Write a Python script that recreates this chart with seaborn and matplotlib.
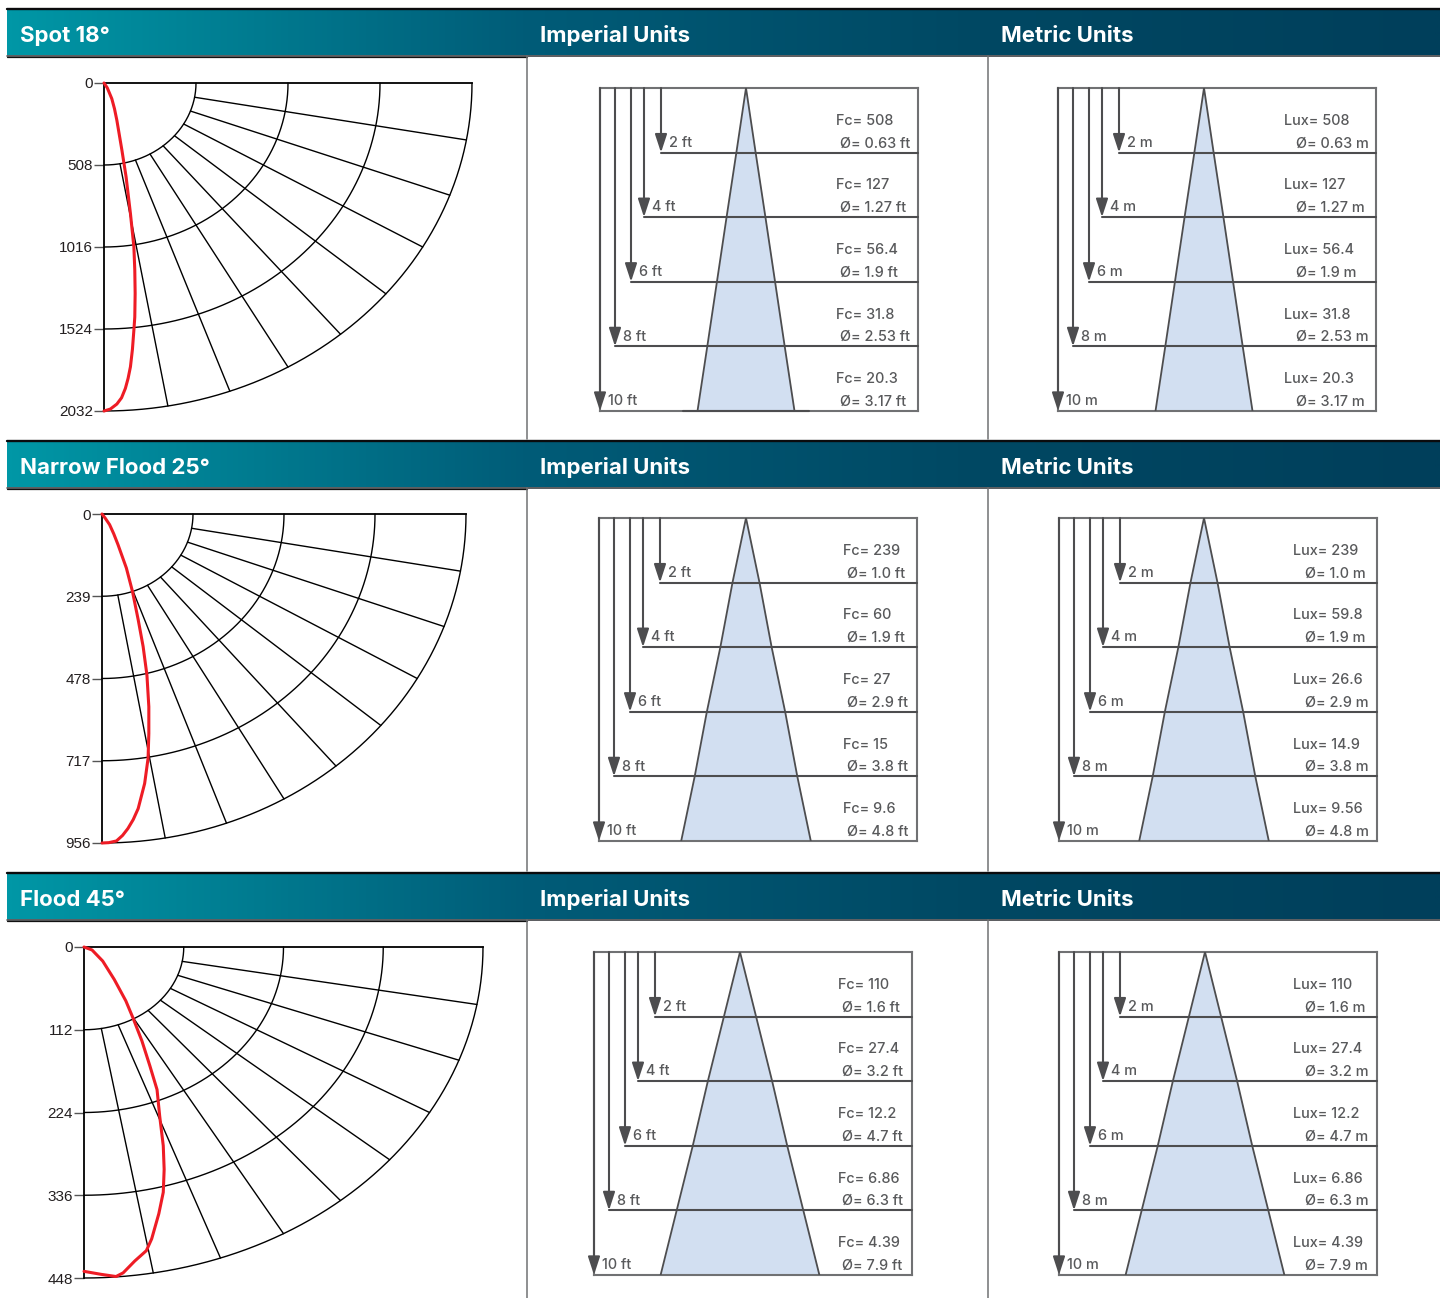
import numpy as np
import seaborn as sns
import matplotlib.pyplot as plt
from matplotlib.colors import LinearSegmentedColormap

W, H = 1440, 1298

# Beam names and candela scale
titles = ['Spot 18°', 'Narrow Flood 25°', 'Flood 45°']
cd_max = [2032, 956, 448]
cd_ticks = [[0, 508, 1016, 1524, 2032], [0, 239, 478, 717, 956], [0, 112, 224, 336, 448]]

# Red candela curves, lateral and axial components
spot_x = [0, 18, 43, 58, 71, 99, 122, 146, 165, 170, 172, 170, 165, 157, 146, 133, 118, 97, 71, 35, 0]
spot_y = [0, 30, 97, 160, 231, 417, 582, 809, 1015, 1160, 1304, 1450, 1531, 1650, 1758, 1830, 1892, 1950, 1989, 2020, 2032]
narrow_x = [0, 9, 20, 31, 42, 64, 80, 95, 108, 118, 123, 123, 121, 112, 95, 82, 68, 54, 38, 18, 0]
narrow_y = [0, 13, 31, 58, 89, 157, 225, 307, 385, 468, 560, 638, 710, 783, 856, 888, 914, 934, 950, 955, 956]
flood_x = [0, 9, 21, 34, 47, 55, 65, 74, 82, 85, 89, 90, 89, 84, 76, 70, 57, 44, 36, 19, 0]
flood_y = [0, 4, 19, 44, 73, 96, 127, 161, 193, 229, 269, 301, 332, 361, 395, 411, 425, 441, 446, 443, 439]

# Cone tables
distances = [2, 4, 6, 8, 10]
spot_diam = [0.63, 1.27, 1.9, 2.53, 3.17]
narrow_diam = [1.0, 1.9, 2.9, 3.8, 4.8]
flood_diam = [1.6, 3.2, 4.7, 6.3, 7.9]
spot_fc = ['508', '127', '56.4', '31.8', '20.3']
spot_lux = ['508', '127', '56.4', '31.8', '20.3']
narrow_fc = ['239', '60', '27', '15', '9.6']
narrow_lux = ['239', '59.8', '26.6', '14.9', '9.56']
flood_fc = ['110', '27.4', '12.2', '6.86', '4.39']
flood_lux = ['110', '27.4', '12.2', '6.86', '4.39']
spot_d_txt = ['0.63', '1.27', '1.9', '2.53', '3.17']
narrow_d_txt = ['1.0', '1.9', '2.9', '3.8', '4.8']
flood_d_txt = ['1.6', '3.2', '4.7', '6.3', '7.9']

TEXT = '#58595b'
DARK = '#4d4d4f'
FRAME = '#707173'
CONE = '#d2dff1'
FONT = 'Inter'

sns.set_theme(style='white')
plt.rcParams['font.family'] = [FONT, 'DejaVu Sans']

fig = plt.figure(figsize=(W / 100, H / 100), dpi=100, facecolor='white')


def px_axes(x0, y0, x1, y1):
    return fig.add_axes([x0 / W, 1 - y1 / H, (x1 - x0) / W, (y1 - y0) / H])


# Background layer in pixels: header bands and cell dividers
bg = px_axes(0, 0, W, H)
bg.axis('off')
band_cmap = LinearSegmentedColormap.from_list(
    'band', [(0, '#0097a6'), (0.36, '#005c78'), (0.68, '#004863'), (1, '#003f5b')])
grad = np.linspace(0, 1, 720).reshape(1, -1)
for row, title in enumerate(titles):
    top = 8 + row * 432
    bg.imshow(grad, cmap=band_cmap, aspect='auto', extent=(7, W, top + 47, top + 1), zorder=1)
    bg.plot([7, W], [top + 1, top + 1], color='#0b0b0d', lw=1.7, zorder=2)
    bg.plot([7, W], [top + 48, top + 48], color='#2c2f33', lw=1.1, zorder=2)
    bg.plot([7, 527], [top + 49, top + 49], color='#111111', lw=0.9, zorder=2)
    end = min(top + 431, H)
    for vx in (527, 988):
        bg.plot([vx, vx], [top + 48, end], color=FRAME, lw=1.1, zorder=2)
    for tx, s in ((20, title), (540, 'Imperial Units'), (1001, 'Metric Units')):
        bg.text(tx, top + 34, s, color='white', fontsize=16, fontweight='bold',
                va='baseline', ha='left', zorder=3)
bg.set_xlim(0, W)
bg.set_ylim(H, 0)


def polar_panel(box, rmax, ticks, cx, cy):
    ax = px_axes(*box)
    ax.set_xlim(0, rmax)
    ax.set_ylim(rmax, 0)
    ax.patch.set_alpha(0)
    for side in ('right', 'bottom'):
        ax.spines[side].set_visible(False)
    for side in ('left', 'top'):
        ax.spines[side].set_linewidth(1.3)
        ax.spines[side].set_color('black')
    step = rmax / 4
    theta = np.radians(np.linspace(0, 90, 181))
    for k in range(1, 5):
        ax.plot(k * step * np.sin(theta), k * step * np.cos(theta), color='black', lw=1.0, clip_on=False)
    for deg in range(10, 90, 10):
        t = np.radians(deg)
        ax.plot([step * np.sin(t), rmax * np.sin(t)], [step * np.cos(t), rmax * np.cos(t)],
                color='black', lw=1.0, clip_on=False)
    sns.lineplot(x=cx, y=cy, sort=False, estimator=None, color='#ee1c25', lw=2.2, ax=ax, clip_on=False, zorder=5)
    ax.set_xticks([])
    ax.set_yticks(ticks)
    ax.set_yticklabels([str(t) for t in ticks], family='Liberation Sans', color='#231f20', fontsize=11)
    ax.tick_params(axis='y', left=True, length=7.5, width=1.0, color='#555555', pad=0.5)
    ax.set_xlabel('')
    ax.set_ylabel('')


def cone_panel(frame, center, scale, unit, values, diam, diam_txt, val_x, dia_x, stub=False):
    x0, y0, x1, y1 = frame
    ax = px_axes(x0, y0, x1, y1)
    ax.set_xlim((x0 - center) / scale, (x1 - center) / scale)
    ax.set_ylim(10, 0)
    ax.set_xticks([])
    ax.set_yticks([])
    ax.patch.set_alpha(0)
    for sp in ax.spines.values():
        sp.set_color(FRAME)
        sp.set_linewidth(1.5)
    depth = [0] + distances
    half = [0] + [d / 2 for d in diam]
    ax.fill_betweenx(depth, [-h for h in half], half, color=CONE, lw=0, zorder=1)
    sns.lineplot(x=[-h for h in half], y=depth, sort=False, estimator=None, color=DARK, lw=1.3, ax=ax, zorder=3)
    sns.lineplot(x=half, y=depth, sort=False, estimator=None, color=DARK, lw=1.3, ax=ax, zorder=3)
    ax.set_xlabel('')
    ax.set_ylabel('')
    arrow_px = [x0, x0 + 15, x0 + 31, x0 + 44, x0 + 61][::-1]
    tr = ax.get_yaxis_transform()
    name = 'Fc' if unit == 'ft' else 'Lux'
    for i, d in enumerate(distances):
        fx = (arrow_px[i] - x0) / (x1 - x0)
        if d < 10:
            ax.plot([fx, 1], [d, d], transform=tr, color=DARK, lw=1.5, zorder=4, clip_on=False)
        elif stub:
            ax.plot([(683 - x0) / (x1 - x0), (809 - x0) / (x1 - x0)], [d, d], transform=tr,
                    color=DARK, lw=1.5, zorder=4, clip_on=False)
        ax.annotate('', xy=(fx, d), xytext=(fx, 0), xycoords=tr, textcoords=tr,
                    arrowprops=dict(arrowstyle='-|>,head_length=1.1,head_width=0.36', color=DARK,
                                    lw=1.5, shrinkA=0, shrinkB=0, mutation_scale=10), zorder=4)
        ax.annotate(f'{d} {unit}', xy=(fx, d), xycoords=tr, xytext=(5.6, 7.0), textcoords='offset points',
                    color=TEXT, fontsize=10.4, fontweight='medium', ha='left', va='center')
        vx = (val_x - x0) / (x1 - x0)
        dx = (dia_x - x0) / (x1 - x0)
        ax.annotate(f'{name}= {values[i]}', xy=(vx, d), xycoords=tr, xytext=(0, 22.9), textcoords='offset points',
                    color=TEXT, fontsize=10.4, fontweight='medium', ha='left', va='center')
        ax.annotate(f'Ø= {diam_txt[i]} {unit}', xy=(dx, d), xycoords=tr, xytext=(0, 6.6), textcoords='offset points',
                    color=TEXT, fontsize=10.4, fontweight='medium', ha='left', va='center')


polar_panel((104, 83, 472, 411), cd_max[0], cd_ticks[0], spot_x, spot_y)
polar_panel((102, 514, 466, 843), cd_max[1], cd_ticks[1], narrow_x, narrow_y)
polar_panel((84, 947, 483, 1278), cd_max[2], cd_ticks[2], flood_x, flood_y)

cone_panel((600, 88, 918, 411), 746, 30.6, 'ft', spot_fc, spot_diam, spot_d_txt, 836, 840, stub=True)
cone_panel((1058, 88, 1376, 411), 1204, 30.6, 'm', spot_lux, spot_diam, spot_d_txt, 1284, 1296)
cone_panel((599, 518, 917, 841), 746, 27, 'ft', narrow_fc, narrow_diam, narrow_d_txt, 843, 847)
cone_panel((1059, 518, 1377, 841), 1204, 27, 'm', narrow_lux, narrow_diam, narrow_d_txt, 1293, 1305)
cone_panel((594, 952, 912, 1275), 740, 20.1, 'ft', flood_fc, flood_diam, flood_d_txt, 838, 842)
cone_panel((1059, 952, 1377, 1275), 1205, 20.1, 'm', flood_lux, flood_diam, flood_d_txt, 1293, 1305)

fig.savefig('out.png', dpi=100)
